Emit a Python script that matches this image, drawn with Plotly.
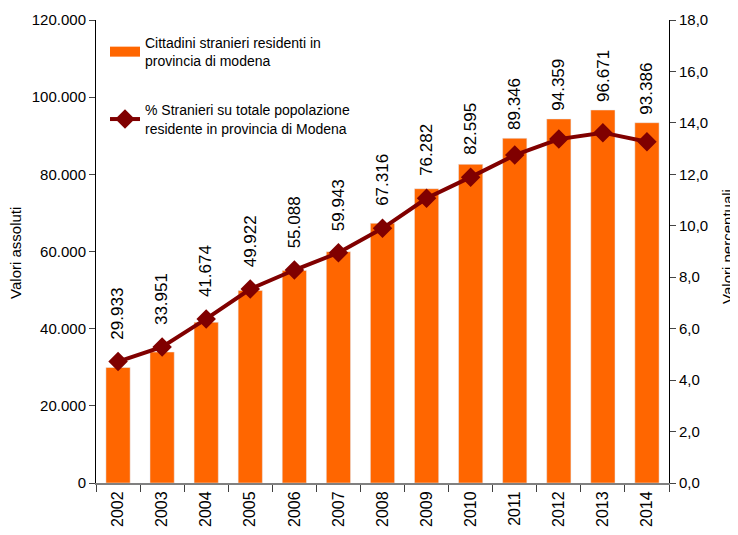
import plotly.graph_objects as go

years = ["2002", "2003", "2004", "2005", "2006", "2007", "2008",
         "2009", "2010", "2011", "2012", "2013", "2014"]
stranieri = [29933, 33951, 41674, 49922, 55088, 59943, 67316,
             76282, 82595, 89346, 94359, 96671, 93386]
percentuale = [4.72, 5.29, 6.38, 7.54, 8.28, 8.95, 9.90,
               11.07, 11.89, 12.75, 13.37, 13.62, 13.27]
left_ticks = [0, 20000, 40000, 60000, 80000, 100000, 120000]
right_ticks = [0, 2, 4, 6, 8, 10, 12, 14, 16, 18]

bar_name = "Cittadini stranieri residenti in<br>provincia di modena"
line_name = "% Stranieri su totale popolazione<br>residente in provincia di Modena"

ORANGE = "#FF6600"
DARKRED = "#800000"
FONT = "Liberation Sans, Arial, sans-serif"

W, H = 730, 527
MARGIN = dict(l=88, r=69, t=12, b=52)
Y1_MAX, Y2_MAX = 120000, 18


def it_int(v):
    return f"{v:,}".replace(",", ".")


def it_dec(v):
    return f"{v:.1f}".replace(".", ",")


fig = go.Figure()

fig.add_trace(go.Bar(
    x=years, y=stranieri, marker=dict(color=ORANGE), width=0.55,
    showlegend=False, name=bar_name, yaxis="y",
))
fig.add_trace(go.Scatter(
    x=years, y=percentuale, mode="lines+markers", name=line_name,
    line=dict(color=DARKRED, width=4),
    marker=dict(symbol="diamond", size=15, color=DARKRED),
    yaxis="y2", legendrank=2, legendgroup="b",
))
# legend proxy for the bar series (wide swatch)
fig.add_trace(go.Scatter(
    x=[years[0]], y=[None], mode="lines", line=dict(color=ORANGE, width=10),
    name=bar_name, legendrank=1, legendgroup="a",
))

# value labels above bar, kept clear of the line marker
plot_h = H - MARGIN["t"] - MARGIN["b"]
k = plot_h / Y1_MAX
scale = Y1_MAX / Y2_MAX
for i, (v, p) in enumerate(zip(stranieri, percentuale)):
    lv = p * scale
    shift = max(6, (lv - v) * k + 20)
    fig.add_annotation(
        x=i, y=v, xref="x", yref="y", text=it_int(v),
        textangle=-90, showarrow=False, yanchor="bottom", yshift=shift,
        font=dict(size=17, color="black", family=FONT),
    )

# axis titles
fig.add_annotation(
    x=-0.1396, y=0.497, xref="paper", yref="paper", text="Valori assoluti",
    textangle=-90, showarrow=False, xanchor="center", yanchor="middle",
    font=dict(size=15, color="black", family=FONT),
)
fig.add_annotation(
    x=1.103, y=0.51, xref="paper", yref="paper", text="Valori percentuali",
    textangle=-90, showarrow=False, xanchor="center", yanchor="middle",
    font=dict(size=15, color="black", family=FONT),
)

fig.update_layout(
    width=W, height=H,
    margin=dict(**MARGIN, autoexpand=False),
    paper_bgcolor="white", plot_bgcolor="white",
    font=dict(family=FONT, size=14, color="black"),
    legend=dict(
        x=0.0157, y=0.985, xanchor="left", yanchor="top",
        bgcolor="rgba(0,0,0,0)", font=dict(size=14, family=FONT),
        tracegroupgap=28,
    ),
    xaxis=dict(
        type="category", range=[-0.5, len(years) - 0.5], autorange=False,
        automargin=False,
        tickangle=-90, showline=True, linecolor="#808080",
        linewidth=2, ticks="outside", tickson="boundaries", ticklen=7,
        tickcolor="#404040", showgrid=False, tickfont=dict(size=16),
    ),
    yaxis=dict(
        range=[0, Y1_MAX], tickvals=left_ticks, automargin=False,
        ticktext=[it_int(t) for t in left_ticks], showline=True,
        linecolor="black", linewidth=1, ticks="outside", ticklen=6,
        showgrid=False, zeroline=False, tickfont=dict(size=15),
    ),
    yaxis2=dict(
        range=[0, Y2_MAX], tickvals=right_ticks, automargin=False,
        ticktext=[it_dec(t) for t in right_ticks], overlaying="y",
        side="right", showline=True, linecolor="black", linewidth=1,
        ticks="outside", ticklen=6, showgrid=False, zeroline=False,
        tickfont=dict(size=15),
    ),
)

fig.write_html("out.html")
